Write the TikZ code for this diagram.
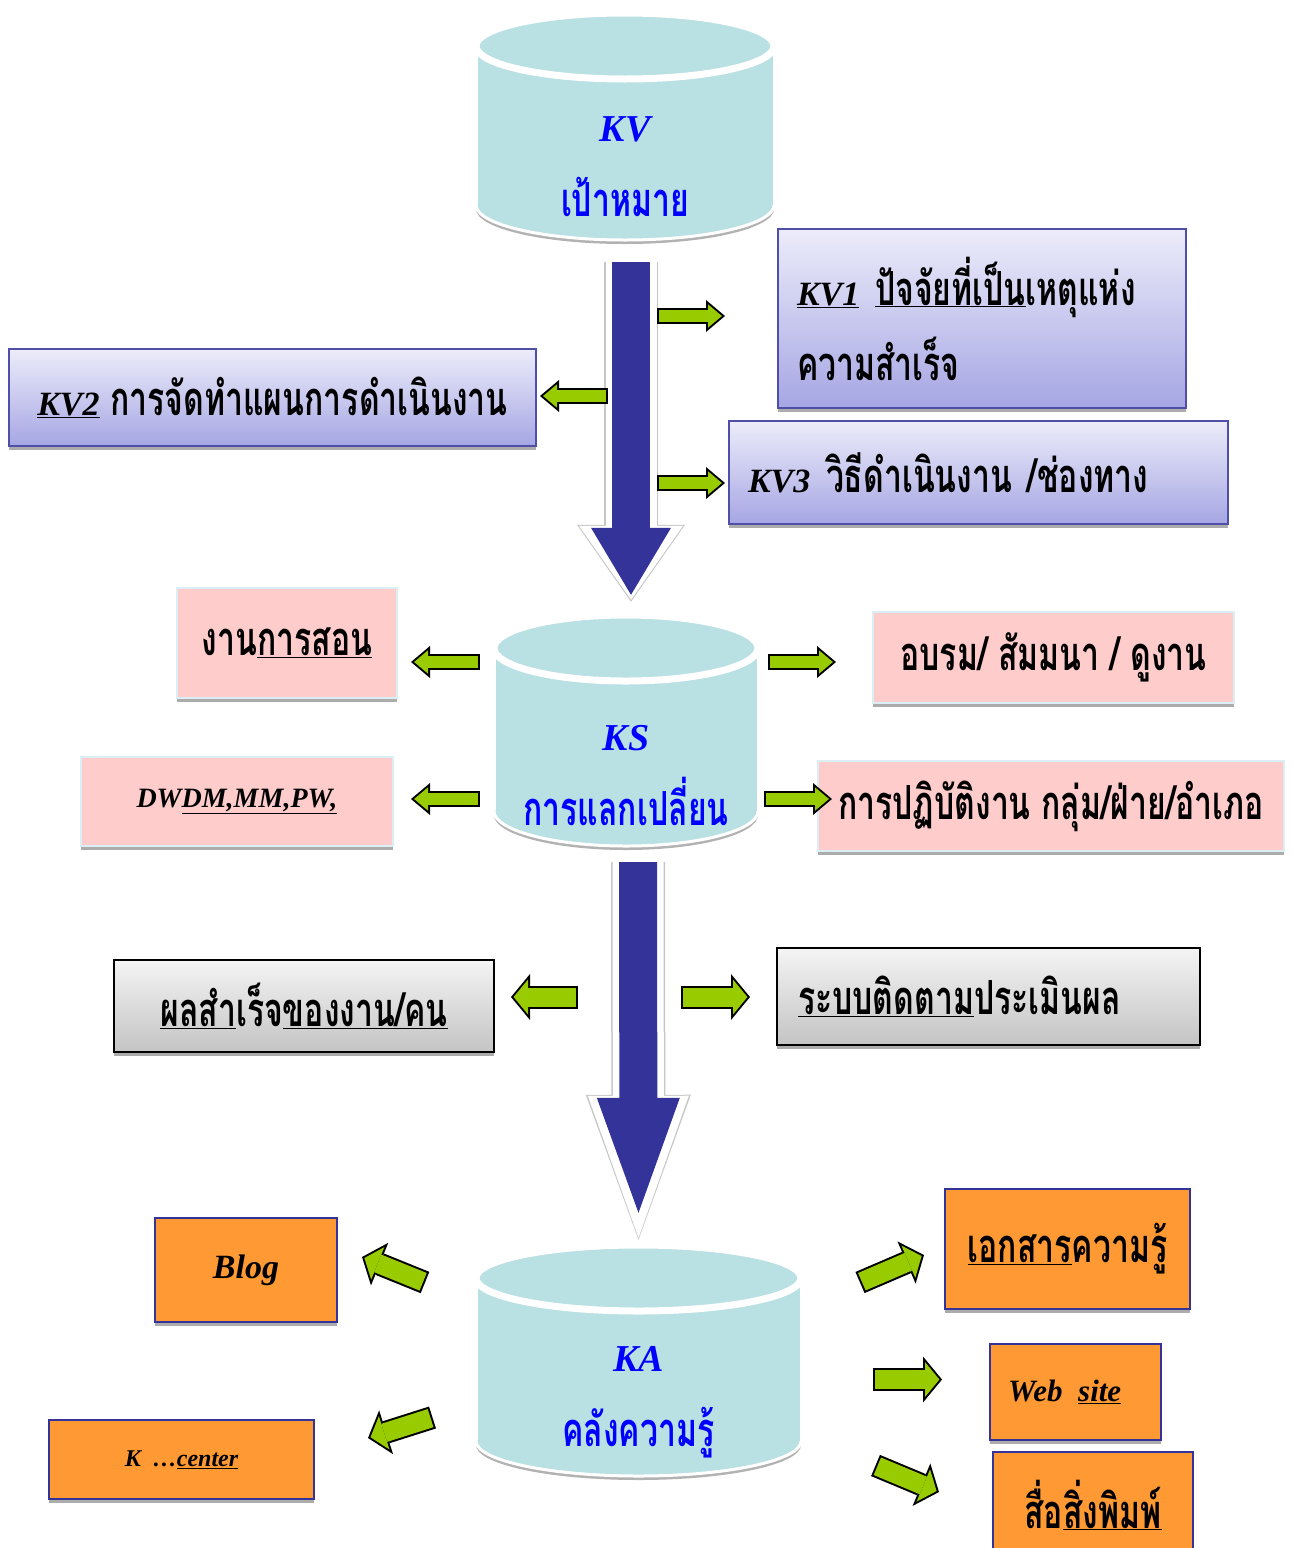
\documentclass[tikz,border=0pt]{standalone}
\usepackage{fontspec}
\usepackage{tikz}
\usetikzlibrary{arrows.meta,shadows}
\newfontfamily\thai[Script=Thai,FakeStretch=0.68]{Loma}
\newfontfamily\lat{Liberation Serif}
\definecolor{cylfill}{HTML}{B9E0E3}
\definecolor{bigblue}{HTML}{333399}
\definecolor{leaf}{HTML}{99CC00}
\definecolor{lavtop}{HTML}{ECECFA}
\definecolor{lavbot}{HTML}{A6A6E4}
\definecolor{lavline}{HTML}{4F4FA8}
\definecolor{pinkfill}{HTML}{FFCCCC}
\definecolor{pinkline}{HTML}{DAEEF3}
\definecolor{greytop}{HTML}{F4F4F4}
\definecolor{greybot}{HTML}{C4C4C4}
\definecolor{orangefill}{HTML}{FF9933}
\definecolor{navy}{HTML}{333399}
\definecolor{bluetext}{HTML}{0000FF}
\newcommand\thbig{\thai\bfseries\fontsize{47}{75}\selectfont}
\newcommand\latit[2]{{\lat\bfseries\itshape\fontsize{#1}{#1}\selectfont #2}}

\begin{document}
\begin{tikzpicture}[x=1pt,y=-1pt,
  shadowed/.style={drop shadow={shadow xshift=0pt,shadow yshift=-4pt,fill=gray!65,opacity=1}},
  store/.style 2 args={rectangle,inner sep=0pt,minimum width=#1,minimum height=#2,fill=white,
    path picture={
      \fill[gray!60] ([yshift=37pt]path picture bounding box.south) ellipse [x radius=#1/2-4pt,y radius=35pt];
      \filldraw[fill=cylfill,draw=white,line width=3pt]
        ([yshift=41pt]path picture bounding box.south) ellipse [x radius=#1/2-4pt,y radius=35pt];
      \fill[cylfill] ([xshift=5.5pt,yshift=-38pt]path picture bounding box.north west)
        rectangle ([xshift=-5.5pt,yshift=41pt]path picture bounding box.south east);
      \filldraw[fill=cylfill,draw=white,line width=7pt]
        ([yshift=-38pt]path picture bounding box.north) ellipse [x radius=#1/2-4pt,y radius=33pt];
    }},
  cyltext/.style={text=bluetext,align=center,font=\thbig},
  lavbox/.style={rectangle,draw=lavline,line width=1.5pt,top color=lavtop,bottom color=lavbot,
    shadowed,inner sep=0pt,font=\thbig},
  pinkbox/.style={rectangle,draw=pinkline,line width=1.5pt,fill=pinkfill,shadowed,inner sep=0pt,font=\thbig},
  greybox/.style={rectangle,draw=black,line width=1.5pt,top color=greytop,bottom color=greybot,
    shadowed,inner sep=0pt,font=\thbig},
  orgbox/.style={rectangle,draw=navy,line width=1.5pt,fill=orangefill,shadowed,inner sep=0pt,font=\thbig},
  bigarrow/.style n args={5}{
    preaction={draw=gray!45,line width=54pt,shorten >=-#5,
      -{Triangle[width=#3,length=#4,line width=0pt]}},
    preaction={draw=white,line width=51pt,shorten >=-#5+2pt,
      -{Triangle[width=#3-4pt,length=#4-3pt,line width=0pt]}},
    draw=bigblue,line width=38pt,-{Triangle[width=#1,length=#2,line width=0pt]}},
  garrow/.style={
    preaction={draw=black,line width=16pt,shorten <=0pt,shorten >=0pt,
      -{Triangle[width=32pt,length=19pt,line width=0pt]}},
    draw=leaf,line width=12pt,shorten <=2pt,shorten >=3.1pt,
    -{Triangle[width=23.4pt,length=13.9pt,line width=0pt]}},
  garrowbig/.style={
    preaction={draw=black,line width=23pt,shorten <=0pt,shorten >=0pt,
      -{Triangle[width=46pt,length=19pt,line width=0pt]}},
    draw=leaf,line width=19pt,shorten <=2pt,shorten >=2.6pt,
    -{Triangle[width=35pt,length=14.4pt,line width=0pt]}}
]
\useasboundingbox (0,0) rectangle (1293,1548);

% the three stores
\node[store={306pt}{238pt},
  label={[cyltext,yshift=-40pt]center:{\latit{38}{KV}\\เป้าหมาย}}] (kv) at (625,127) {};
\node[store={272pt}{242pt},
  label={[cyltext,yshift=-45pt]center:{\latit{38}{KS}\\การแลกเปลี่ยน}}] (ks) at (626,731) {};
\node[store={333pt}{242pt},
  label={[cyltext,yshift=-41pt]center:{\latit{38}{KA}\\คลังความรู้}}] (ka) at (638.5,1361) {};

% KV boxes
\node[lavbox,minimum width=408pt,minimum height=179pt,text width=370pt,align=left] (kv1) at (982,318.5)
  {\latit{34}{\underline{KV1}} \underline{ปัจจัยที่เป็น}เหตุแห่ง\\ความสำเร็จ};
\node[lavbox,minimum width=527pt,minimum height=97pt,align=center] (kv2) at (272.5,397.5)
  {\latit{34}{\underline{KV2}} การจัดทำแผนการดำเนินงาน};
\node[lavbox,minimum width=499pt,minimum height=103pt,text width=461pt,align=left] (kv3) at (978.5,472.5)
  {\latit{34}{KV3} วิธีดำเนินงาน /ช่องทาง};

% KS boxes
\node[pinkbox,minimum width=220pt,minimum height=110pt] (teach) at (287,643) {งาน\underline{การสอน}};
\node[pinkbox,minimum width=312pt,minimum height=89pt] (dwdm) at (237,801.5)
  {\latit{28}{DW\underline{DM,MM,PW,}}};
\node[pinkbox,minimum width=361pt,minimum height=91pt] (train) at (1053.5,657.5) {อบรม/ สัมมนา / ดูงาน};
\node[pinkbox,minimum width=466pt,minimum height=90pt] (work) at (1051,806) {การปฏิบัติงาน กลุ่ม/ฝ่าย/อำเภอ};

% evaluation boxes
\node[greybox,minimum width=380pt,minimum height=92pt] (result) at (304,1006)
  {\underline{ผลสำ}เร็จ\underline{ของงาน/คน}};
\node[greybox,minimum width=423pt,minimum height=97pt,text width=381pt,align=left] (track) at (988.5,996.5)
  {\underline{ระบบติดตาม}ประเมินผล};

% KA boxes
\node[orgbox,minimum width=182pt,minimum height=104pt] (blog) at (246,1270) {\latit{34}{Blog}};
\node[orgbox,minimum width=265pt,minimum height=79pt] (kcen) at (181.5,1459.5)
  {\latit{24}{K \ \dots\underline{center}}};
\node[orgbox,minimum width=245pt,minimum height=120pt] (doc) at (1067.5,1249) {\underline{เอกสาร}ความรู้};
\node[orgbox,minimum width=171pt,minimum height=96pt,text width=135pt,align=left] (web) at (1075.5,1392)
  {\latit{31}{Web \underline{site}}};
\node[orgbox,minimum width=200pt,minimum height=106pt] (print) at (1093,1505) {สื่อ\underline{สิ่งพิมพ์}};

% main flow
\draw[bigarrow={80pt}{67pt}{108pt}{77pt}{7pt}]
  ([xshift=6pt,yshift=-16pt]kv.south) -- ([xshift=5pt,yshift=15pt]ks.north);
\draw[bigarrow={83pt}{115pt}{105pt}{145pt}{27pt}]
  ([xshift=12pt,yshift=-10pt]ks.south) -- ([yshift=27pt]ka.north);

% side arrows
\coordinate (g1a) at (657,316);   \coordinate (g1b) at (725,316);
\coordinate (g2a) at (608,396);   \coordinate (g2b) at (540,396);
\coordinate (g3a) at (657,483);   \coordinate (g3b) at (725,483);
\coordinate (g4a) at (480,662);   \coordinate (g4b) at (411,662);
\coordinate (g5a) at (480,799);   \coordinate (g5b) at (411,799);
\coordinate (g6a) at (768,662);   \coordinate (g6b) at (836,662);
\coordinate (g7a) at (764,799);   \coordinate (g7b) at (832,799);
\coordinate (g8a) at (578,997);   \coordinate (g8b) at (511,997);
\coordinate (g9a) at (681,997);   \coordinate (g9b) at (750,997);
\coordinate (g10a) at (425,1282.5); \coordinate (g10b) at (362,1257);
\coordinate (g11a) at (432.5,1417.5); \coordinate (g11b) at (368,1438);
\coordinate (g12a) at (860,1282.5); \coordinate (g12b) at (924,1255);
\coordinate (g13a) at (873,1379.5); \coordinate (g13b) at (942,1379.5);
\coordinate (g14a) at (875.5,1465.5); \coordinate (g14b) at (939,1492);
\foreach \i in {1,...,7} {\draw[garrow] (g\i a) -- (g\i b);}
\foreach \i in {8,...,14} {\draw[garrowbig] (g\i a) -- (g\i b);}
\end{tikzpicture}
\end{document}
